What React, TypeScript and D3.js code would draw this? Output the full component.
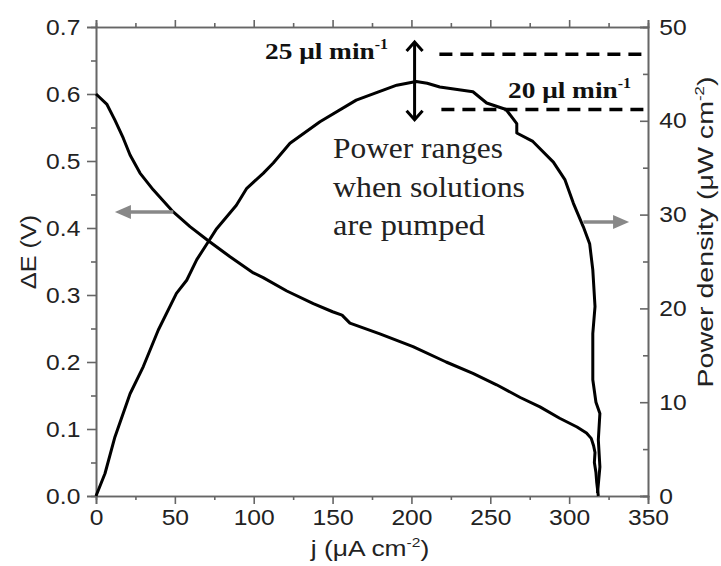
import React, { useRef, useEffect } from "react";
import * as d3 from "d3";

// polarisation curve (cell voltage vs current density)
const voltJ = [0, 6.8, 12, 17.3, 21.6, 27.9, 36.3, 49, 59.6, 71.2, 85, 99.8, 106, 121, 137.8, 150, 156, 161, 180, 201, 222, 239, 254, 269, 281.5, 294, 305, 311, 314, 315.5, 316.4, 316, 317, 317.5, 318.5];
const voltE = [0.6, 0.585, 0.561, 0.534, 0.509, 0.482, 0.457, 0.424, 0.402, 0.381, 0.357, 0.333, 0.326, 0.306, 0.287, 0.275, 0.27, 0.258, 0.242, 0.223, 0.2, 0.183, 0.166, 0.147, 0.133, 0.116, 0.103, 0.094, 0.086, 0.075, 0.065, 0.05, 0.035, 0.02, 0.0];

// power curve
const powJ = [0, 5.7, 12, 21.6, 30, 39.5, 51, 57.5, 63.9, 71.2, 76.5, 89, 95.6, 106, 112.4, 123, 142, 165, 190.7, 203, 210, 218, 239, 247.7, 260, 266.8, 266.8, 277, 290, 297.4, 302.7, 309, 313, 315, 316.4, 315, 315, 317, 319.5, 318.5, 319.5, 318];
const powP = [0, 2.4, 6.3, 10.9, 13.8, 17.7, 21.6, 23, 25.2, 27.1, 28.5, 31, 32.8, 34.4, 35.5, 37.6, 39.9, 42.2, 43.8, 44.2, 44, 43.6, 43.1, 41.9, 41.2, 39.7, 38.7, 37.8, 35.6, 33.7, 31.2, 28.7, 26.9, 24.1, 20.2, 17.3, 12.4, 10, 8.8, 6, 3.1, 0.3];

const xTicks = [0, 50, 100, 150, 200, 250, 300, 350];
const leftTicks = [0, 0.1, 0.2, 0.3, 0.4, 0.5, 0.6, 0.7];
const rightTicks = [0, 10, 20, 30, 40, 50];

// power levels reached when solutions are pumped (uW cm-2)
const flowLabels = ["25 μl min", "20 μl min"];
const flowPower = [47.1, 41.2];

const W = 721, H = 566;
const M = { left: 96, right: 648, top: 27, bottom: 496 };
const sans = "'Liberation Sans', Arial, sans-serif";
const serif = "'Liberation Serif', 'Times New Roman', serif";

function App() {
  const svgRef = useRef(null);

  const x = d3.scaleLinear().domain([0, 350]).range([M.left, M.right]);
  const yV = d3.scaleLinear().domain([0, 0.7]).range([M.bottom, M.top]);
  const yP = d3.scaleLinear().domain([0, 50]).range([M.bottom, M.top]);

  useEffect(() => {
    const svg = d3.select(svgRef.current);

    const styleAxis = (g, stretch) => {
      g.select(".domain").attr("stroke", "#666").attr("stroke-width", 1.6);
      g.selectAll(".tick line").attr("stroke", "#666").attr("stroke-width", 1.6);
      g.selectAll(".tick text")
        .attr("fill", "#222")
        .style("font-family", sans)
        .style("font-size", "22px")
        .attr("transform", `scale(${stretch},1)`);
    };

    const mid = (ticks, step) => ticks.slice(0, -1).map((t) => t + step / 2);

    // bottom
    svg.select(".x-axis")
      .attr("transform", `translate(0,${M.bottom})`)
      .call(d3.axisBottom(x).tickValues(xTicks).tickSize(8).tickPadding(5).tickFormat(d3.format("d")))
      .call((g) => styleAxis(g, 1.12));
    svg.select(".x-minor")
      .attr("transform", `translate(0,${M.bottom})`)
      .call(d3.axisBottom(x).tickValues(mid(xTicks, 50)).tickSize(4).tickFormat(() => ""))
      .call((g) => styleAxis(g, 1));
    // top
    svg.select(".x-top")
      .attr("transform", `translate(0,${M.top})`)
      .call(d3.axisTop(x).tickValues(xTicks).tickSize(7).tickFormat(() => ""))
      .call((g) => styleAxis(g, 1));
    svg.select(".x-top-minor")
      .attr("transform", `translate(0,${M.top})`)
      .call(d3.axisTop(x).tickValues(mid(xTicks, 50)).tickSize(4).tickFormat(() => ""))
      .call((g) => styleAxis(g, 1));
    // left
    svg.select(".y-axis")
      .attr("transform", `translate(${M.left},0)`)
      .call(d3.axisLeft(yV).tickValues(leftTicks).tickSize(9).tickPadding(5).tickFormat(d3.format(".1f")))
      .call((g) => styleAxis(g, 1.12));
    svg.select(".y-minor")
      .attr("transform", `translate(${M.left},0)`)
      .call(d3.axisLeft(yV).tickValues(mid(leftTicks, 0.1)).tickSize(5).tickFormat(() => ""))
      .call((g) => styleAxis(g, 1));
    // right (ticks inward)
    svg.select(".y-right")
      .attr("transform", `translate(${M.right},0)`)
      .call(d3.axisRight(yP).tickValues(rightTicks).tickSize(-8).tickPadding(10).tickFormat(d3.format("d")))
      .call((g) => styleAxis(g, 1.12));
    svg.select(".y-right-minor")
      .attr("transform", `translate(${M.right},0)`)
      .call(d3.axisRight(yP).tickValues(mid(rightTicks, 10)).tickSize(-5).tickFormat(() => ""))
      .call((g) => styleAxis(g, 1));
  }, []);

  const vLine = d3.line().x((d) => x(d[0])).y((d) => yV(d[1]));
  const pLine = d3.line().x((d) => x(d[0])).y((d) => yP(d[1]));
  const voltPts = voltJ.map((j, i) => [j, voltE[i]]);
  const powPts = powJ.map((j, i) => [j, powP[i]]);

  // annotation anchors in data units
  const arrowJ = 202;
  const arrowTop = yP(48.4), arrowBot = yP(40.1);
  const ax = x(arrowJ);
  const leftArrowY = yV(0.424);
  const rightArrowY = yP(29.2);

  return (
    <svg ref={svgRef} width={W} height={H} style={{ position: "absolute", left: 0, top: 0, background: "#fff" }}>
      <rect x={0} y={0} width={W} height={H} fill="#fff" />
      <g className="x-minor" />
      <g className="x-top-minor" />
      <g className="y-minor" />
      <g className="y-right-minor" />
      <g className="x-axis" />
      <g className="x-top" />
      <g className="y-axis" />
      <g className="y-right" />

      <path d={vLine(voltPts)} fill="none" stroke="#000" strokeWidth={3} strokeLinejoin="round" />
      <path d={pLine(powPts)} fill="none" stroke="#000" strokeWidth={3} strokeLinejoin="round" />

      {/* dashed flow-rate power levels */}
      {flowPower.map((p, i) => (
        <line key={i} x1={x(219) - (i === 0 ? 2 : 0)} x2={M.right - 4} y1={yP(p)} y2={yP(p)}
          stroke="#000" strokeWidth={3.5} strokeDasharray="13 8" />
      ))}

      {/* double arrow */}
      <line x1={ax} x2={ax} y1={arrowTop} y2={arrowBot} stroke="#000" strokeWidth={3} />
      <path d={`M${ax - 8},${arrowTop + 9} L${ax},${arrowTop} L${ax + 8},${arrowTop + 9}`} fill="none" stroke="#000" strokeWidth={3} />
      <path d={`M${ax - 8},${arrowBot - 9} L${ax},${arrowBot} L${ax + 8},${arrowBot - 9}`} fill="none" stroke="#000" strokeWidth={3} />

      {/* gray axis pointers */}
      <line x1={x(17)} x2={x(49)} y1={leftArrowY} y2={leftArrowY} stroke="#888" strokeWidth={3.5} />
      <path d={`M${x(12)},${leftArrowY} L${x(12) + 16},${leftArrowY - 7} L${x(12) + 16},${leftArrowY + 7} Z`} fill="#888" />
      <line x1={x(309)} x2={x(333)} y1={rightArrowY} y2={rightArrowY} stroke="#888" strokeWidth={3.5} />
      <path d={`M${x(338)},${rightArrowY} L${x(338) - 16},${rightArrowY - 7} L${x(338) - 16},${rightArrowY + 7} Z`} fill="#888" />

      {/* flow labels */}
      <g transform="translate(265,59) scale(1.14,1)">
        <text x={0} y={0} fontFamily={serif} fontWeight="bold" fontSize={24} fill="#111">
          {flowLabels[0]}<tspan fontSize={14} dy={-10}>-1</tspan>
        </text>
      </g>
      <g transform="translate(508,98) scale(1.14,1)">
        <text x={0} y={0} fontFamily={serif} fontWeight="bold" fontSize={24} fill="#111">
          {flowLabels[1]}<tspan fontSize={14} dy={-10}>-1</tspan>
        </text>
      </g>

      <g fontFamily={serif} fontSize={30} fill="#222">
        <text x={333} y={158} textLength={170} lengthAdjust="spacingAndGlyphs">Power ranges</text>
        <text x={333} y={197} textLength={192} lengthAdjust="spacingAndGlyphs">when solutions</text>
        <text x={333} y={235} textLength={152} lengthAdjust="spacingAndGlyphs">are pumped</text>
      </g>

      {/* axis titles */}
      <g transform="translate(370,556) scale(1.2,1)">
        <text x={0} y={0} textAnchor="middle" fontFamily={sans} fontSize={22} fill="#222">
          j (μA cm<tspan fontSize={13} dy={-9}>-2</tspan><tspan dy={9}>)</tspan>
        </text>
      </g>
      <g transform="translate(36,252) rotate(-90) scale(1.15,1)">
        <text x={0} y={0} textAnchor="middle" fontFamily={sans} fontSize={22} fill="#222">ΔE (V)</text>
      </g>
      <g transform="translate(713,232) rotate(-90) scale(1.3,1)">
        <text x={0} y={0} textAnchor="middle" fontFamily={sans} fontSize={22} fill="#222">
          Power density (μW cm<tspan fontSize={13} dy={-9}>-2</tspan><tspan dy={9}>)</tspan>
        </text>
      </g>
    </svg>
  );
}

export default App;
